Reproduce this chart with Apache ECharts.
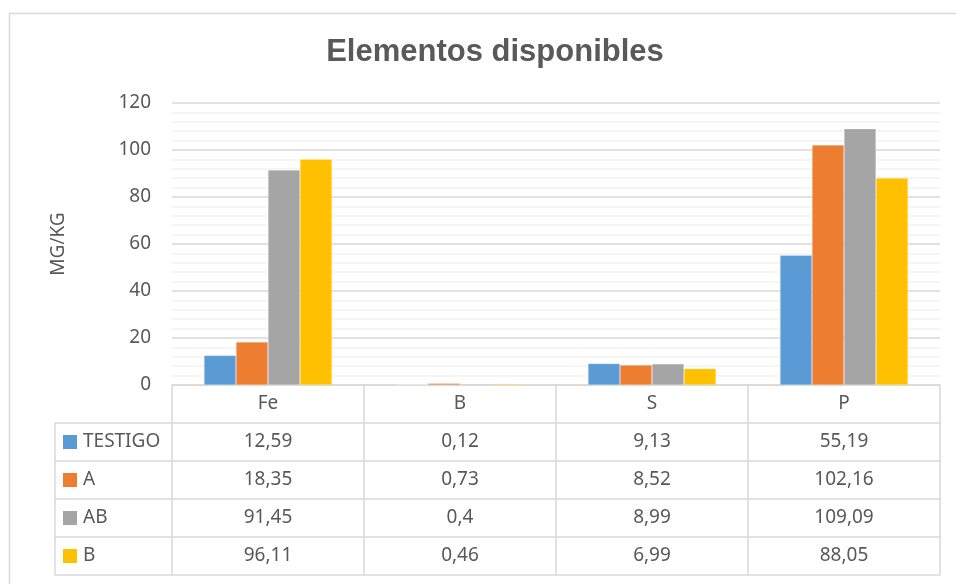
<!DOCTYPE html>
<html>
<head>
<meta charset="utf-8">
<script src="https://cdn.jsdelivr.net/npm/echarts@6/dist/echarts.min.js"></script>
<style>
  html, body { margin: 0; padding: 0; background: #fff; }
  #chart { width: 956px; height: 584px; }
</style>
</head>
<body>
<div id="chart"></div>
<script>
const categories = ["Fe", "B", "S", "P"]
const seriesNames = ["TESTIGO", "A", "AB", "B"]
const testigo = [12.59, 0.12, 9.13, 55.19]
const serieA = [18.35, 0.73, 8.52, 102.16]
const serieAB = [91.45, 0.4, 8.99, 109.09]
const serieB = [96.11, 0.46, 6.99, 88.05]
const colors = ["#5B9BD5", "#ED7D31", "#A5A5A5", "#FFC000"]

const allData = [testigo, serieA, serieAB, serieB]
const textColor = "#595959"
const lineColor = "#D9D9D9"
const font = "'Noto Sans', 'Open Sans', sans-serif"
const fs = 19

// plot area in pixels
const gLeft = 172, gRight = 940, gTop = 103, gBottom = 385
const rowH = 38, headH = 38, legLeft = 55

const fmt = v => String(v).replace(".", ",")

function buildTable() {
    let els = []
    const colW = (gRight - gLeft) / categories.length
    const tableBottom = gBottom + headH + rowH * seriesNames.length
    const line = (x1, y1, x2, y2) => ({
        type: "line", silent: true,
        shape: {x1, y1, x2, y2},
        style: {stroke: lineColor, lineWidth: 1.5}
    })
    // vertical lines in the category part
    for (let i = 0; i <= categories.length; i++) {
        let x = gLeft + colW * i
        els.push(line(x, gBottom, x, tableBottom))
    }
    els.push(line(legLeft, gBottom + headH, legLeft, tableBottom))
    // horizontal lines
    for (let r = 0; r <= seriesNames.length; r++) {
        let y = gBottom + headH + rowH * r
        els.push(line(legLeft, y, gRight, y))
    }
    // rows: legend key + values
    seriesNames.forEach((name, r) => {
        let cy = gBottom + headH + rowH * r + rowH / 2
        els.push({
            type: "rect", silent: true,
            shape: {x: legLeft + 8, y: cy - 7, width: 14, height: 14},
            style: {fill: colors[r]}
        })
        els.push({
            type: "text", silent: true, x: legLeft + 28, y: cy,
            style: {text: name, fill: textColor, font: fs + "px " + font, verticalAlign: "middle"}
        })
        allData[r].forEach((v, c) => {
            els.push({
                type: "text", silent: true, x: gLeft + colW * c + colW / 2, y: cy,
                style: {text: fmt(v), fill: textColor, font: fs + "px " + font, align: "center", verticalAlign: "middle"}
            })
        })
    })
    // outer chart border
    els.push({
        type: "rect", silent: true,
        shape: {x: 9.5, y: 13.5, width: 1000, height: 1000},
        style: {fill: null, stroke: lineColor, lineWidth: 1.5}
    })
    return els
}

const chart = echarts.init(document.getElementById("chart"))
const option = {
    backgroundColor: "#fff",
    animation: false,
    title: {
        text: "Elementos disponibles",
        left: 490, top: 32, textAlign: "center",
        textStyle: {color: textColor, fontSize: 31, fontWeight: "bold", fontFamily: "'Liberation Sans', Arial, sans-serif"}
    },
    grid: {left: gLeft, right: 956 - gRight, top: gTop, bottom: 584 - gBottom},
    xAxis: {
        type: "category",
        data: categories,
        axisLine: {show: true, lineStyle: {color: lineColor, width: 1.5}},
        axisTick: {show: false},
        axisLabel: {color: textColor, fontSize: fs, fontFamily: font, margin: 9}
    },
    yAxis: {
        type: "value",
        min: 0, max: 120, interval: 20,
        name: "MG/KG",
        nameLocation: "middle",
        nameGap: 104,
        nameTextStyle: {color: textColor, fontSize: fs, fontFamily: font},
        axisLine: {show: false},
        axisTick: {show: false},
        axisLabel: {color: textColor, fontSize: fs, fontFamily: font, margin: 21},
        splitLine: {show: true, lineStyle: {color: lineColor, width: 1.5}},
        minorTick: {show: false, splitNumber: 5},
        minorSplitLine: {show: true, lineStyle: {color: "#F2F2F2", width: 1.5}}
    },
    series: seriesNames.map((name, i) => ({
        name: name,
        type: "bar",
        data: allData[i],
        barWidth: 32,
        barGap: "0%",
        itemStyle: {color: colors[i], borderColor: "rgba(255,255,255,0.5)", borderWidth: 0.5}
    })),
    graphic: buildTable()
}
chart.setOption(option)
</script>
</body>
</html>
